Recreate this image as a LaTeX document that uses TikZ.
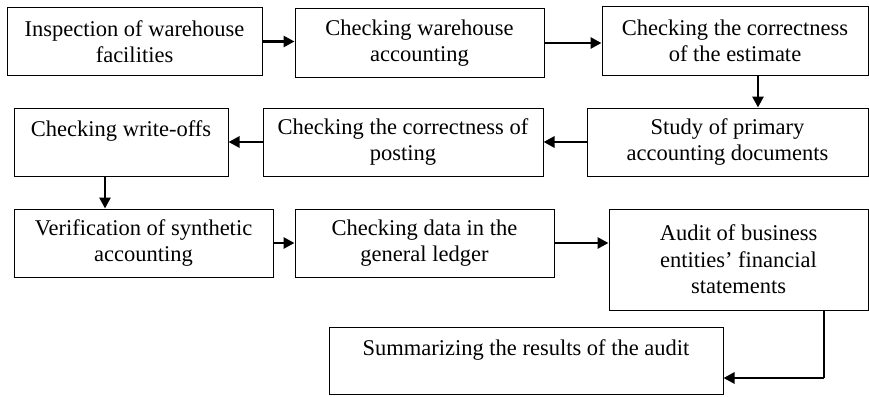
\documentclass[tikz,border=0pt]{standalone}
\usepackage{fontspec}
\setmainfont{Liberation Serif}
\usetikzlibrary{arrows.meta}
\tikzset{
  stage/.style={draw=black,line width=1pt,align=center,inner sep=2pt,
    font=\fontsize{22.5}{26.5}\selectfont},
  flow/.style={-{Triangle[length=11pt,width=11pt]},line width=2.8pt},
  thinlink/.style={line width=1.2pt}
}

\begin{document}
\begin{tikzpicture}[x=1pt,y=-1pt]
  \useasboundingbox (0,0) rectangle (869,396);
  % first row
  \node[stage,minimum width=255pt,minimum height=67pt] (inspect) at (134.5,41.5)
    {Inspection of warehouse\\facilities};
  \node[stage,minimum width=249pt,minimum height=68pt] (whacc) at (419.5,43)
    {Checking warehouse\\accounting};
  \node[stage,minimum width=266pt,minimum height=68pt] (estimate) at (735,41)
    {Checking the correctness\\of the estimate};
  % second row
  \node[stage,minimum width=281pt,minimum height=68pt] (primary) at (727.5,142)
    {Study of primary\\accounting documents};
  \node[stage,minimum width=280pt,minimum height=68pt] (posting) at (403,142)
    {Checking the correctness of\\posting};
  \node[stage,minimum width=214pt,minimum height=68pt] (writeoffs) at (121,142)
    {Checking write-offs\\~};
  % third row
  \node[stage,minimum width=259pt,minimum height=68pt] (synth) at (143.5,243)
    {Verification of synthetic\\accounting};
  \node[stage,minimum width=259pt,minimum height=68pt] (ledger) at (424.5,243)
    {Checking data in the\\general ledger};
  \node[stage,minimum width=259pt,minimum height=101pt] (fstat) at (738.5,259.5)
    {Audit of business\\entities' financial\\statements};
  \node[stage,minimum width=394pt,minimum height=67pt] (summary) at (526,360.5)
    {Summarizing the results of the audit\\~};

  \draw[flow] (inspect.east) -- (inspect.east -| whacc.west);
  \draw[flow] (whacc.east) -- (whacc.east -| estimate.west);
  \draw[flow] ([xshift=23pt]estimate.south) -- ([xshift=23pt]estimate.south |- primary.north);
  \draw[flow] (primary.west) -- (posting.east);
  \draw[flow] (posting.west) -- (writeoffs.east);
  \draw[flow] ([xshift=-16pt]writeoffs.south) -- ([xshift=-16pt]writeoffs.south |- synth.north);
  \draw[flow] (synth.east) -- (ledger.west);
  \draw[flow] (ledger.east) -- (ledger.east -| fstat.west);
  \coordinate (bend) at ([xshift=85.5pt,yshift=-17.5pt]fstat.south |- summary.east);
  \draw[thinlink] ([xshift=85.5pt]fstat.south) -- (bend);
  \draw[flow] (bend) -- ([yshift=-17.5pt]summary.east);
\end{tikzpicture}
\end{document}
